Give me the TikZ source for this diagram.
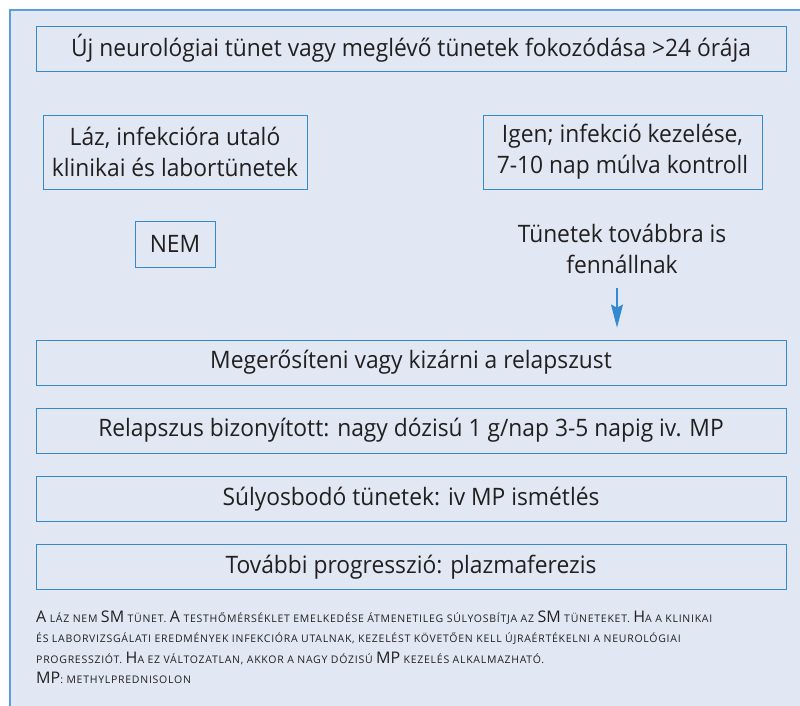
\documentclass[tikz,border=0pt]{standalone}
\usepackage{fontspec}
\setmainfont[FakeStretch=0.95]{Open Sans}
\newfontfamily\notefont[LetterSpace=7]{Open Sans}
\newfontfamily\notebigfont{Open Sans}
\usetikzlibrary{arrows.meta}
\definecolor{bg}{HTML}{E1E8F4}
\definecolor{framec}{HTML}{5A9FD8}
\definecolor{boxc}{HTML}{3589D0}
\definecolor{ink}{HTML}{231F20}
\newcommand\capbig[1]{{\notebigfont\fontsize{16}{20}\selectfont #1}}
\begin{document}
\begin{tikzpicture}[x=1pt,y=-1pt,
  box/.style={draw=boxc, line width=0.9pt, fill=bg, text=ink, inner sep=0pt, align=center, font=\fontsize{24}{31}\selectfont},
  lbl/.style={text=ink, inner sep=0pt, align=center, font=\fontsize{24}{31}\selectfont},
  arr/.style={draw=boxc, line width=1.2pt, -{Stealth[length=23pt,width=12pt,inset=3pt]}},
  note/.style={text=ink, inner sep=0pt, align=left, anchor=north west, font=\notefont\fontsize{10.5}{20.2}\selectfont}]
\useasboundingbox (0,0) rectangle (800,706);
\fill[bg] (10,10) rectangle (800,706);
\draw[framec, line width=1.5pt] (10,706) -- (10,10) -- (800,10);

\node[box, minimum width=750pt, minimum height=45pt] (top) at (411,48.5) {Új neurológiai tünet vagy meglévő tünetek fokozódása >24 órája};
\node[box, minimum width=264pt, minimum height=74pt] (fever) at (175,152) {Láz, infekcióra utaló\\klinikai és labortünetek};
\node[box, minimum width=279pt, minimum height=74pt] (yes) at (622.5,152) {Igen; infekció kezelése,\\7-10 nap múlva kontroll};
\node[box, minimum width=80pt, minimum height=46pt] (no) at (175,244) {NEM};
\node[lbl] (persist) at (622,249) {Tünetek továbbra is\\fennállnak};
\node[box, minimum width=750pt, minimum height=45pt] (confirm) at (411,362.5) {Megerősíteni vagy kizárni a relapszust};
\node[box, minimum width=750pt, minimum height=45pt] (proven) at (411,430.5) {Relapszus bizonyított: nagy dózisú 1 g/nap 3-5 napig iv. MP};
\node[box, minimum width=750pt, minimum height=45pt] (worse) at (411,499) {Súlyosbodó tünetek: iv MP ismétlés};
\node[box, minimum width=750pt, minimum height=45pt] (further) at (411,567) {További progresszió: plazmaferezis};

\draw[arr, shorten <=14pt, shorten >=12pt] ([xshift=-5pt]persist.south) -- ([xshift=-5pt]persist.south |- confirm.north);

\node[note] (fn) at (36,611) {\capbig{A} LÁZ NEM \capbig{SM} TÜNET. \capbig{A} TESTHŐMÉRSÉKLET EMELKEDÉSE ÁTMENETILEG SÚLYOSBÍTJA AZ \capbig{SM} TÜNETEKET. \capbig{H}A A KLINIKAI\\
ÉS LABORVIZSGÁLATI EREDMÉNYEK INFEKCIÓRA UTALNAK, KEZELÉST KÖVETŐEN KELL ÚJRAÉRTÉKELNI A NEUROLÓGIAI\\
PROGRESSZIÓT. \capbig{H}A EZ VÁLTOZATLAN, AKKOR A NAGY DÓZISÚ \capbig{MP} KEZELÉS ALKALMAZHATÓ.\\
\capbig{MP}: METHYLPREDNISOLON};
\end{tikzpicture}
\end{document}
